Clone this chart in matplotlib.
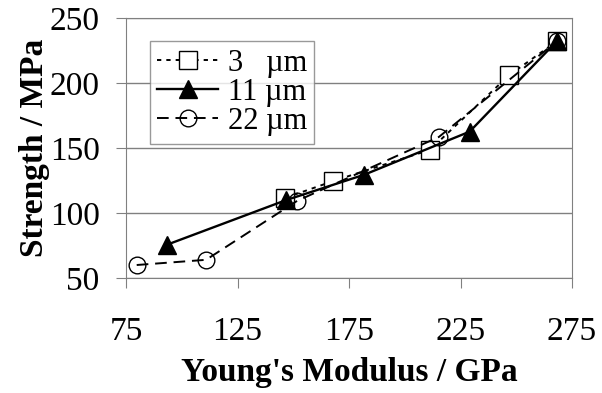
import matplotlib
matplotlib.use("Agg")
import matplotlib.pyplot as plt

# data
mod_3 = [146.4, 167.8, 211.3, 246.8, 268.1]
str_3 = [111.6, 124.5, 148.6, 206.0, 232.0]

mod_11 = [93.2, 146.9, 181.9, 229.1, 268.1]
str_11 = [75.5, 110.0, 129.5, 162.6, 232.0]

mod_22 = [79.8, 110.9, 151.7, 215.3, 268.1]
str_22 = [60.0, 64.0, 109.3, 158.5, 232.0]

x_ticks = [75, 125, 175, 225, 275]
y_ticks = [50, 100, 150, 200, 250]

plt.rcParams['font.family'] = ['Liberation Serif', 'DejaVu Serif']

fig = plt.figure(figsize=(6.02, 3.93), dpi=100)
ax = fig.add_axes([0.2093, 0.2926, 0.7409, 0.6616])

ax.plot(mod_3, str_3, color='black', lw=1.4, ls=(0, (2.2, 2.6)), marker='s',
        ms=12.5, mfc='white', mec='black', mew=1.0, label='3   \u00b5m', zorder=3)
ax.plot(mod_11, str_11, color='black', lw=1.7, ls='-', marker='^',
        ms=13, mfc='black', mec='black', label='11 \u00b5m', zorder=4)
ax.plot(mod_22, str_22, color='black', lw=1.4, ls=(0, (6, 3.5)), marker='o',
        ms=12, mfc='none', mec='black', mew=1.0, label='22 \u00b5m', zorder=3)

ax.set_xlim(75, 275)
ax.set_ylim(50, 250)
ax.set_xticks(x_ticks)
ax.set_yticks(y_ticks)
ax.grid(axis='y', color='#808080', lw=1.0)
ax.set_axisbelow(True)

for s in ['top', 'right', 'left', 'bottom']:
    ax.spines[s].set_color('#808080')
ax.tick_params(axis='both', direction='out', length=7, color='#808080',
               labelsize=24)
ax.tick_params(axis='x', pad=21)
ax.tick_params(axis='y', pad=12)

ax.set_xlabel("Young's Modulus / GPa", fontsize=24, fontweight='bold', labelpad=7)
ax.set_ylabel("Strength / MPa", fontsize=24, fontweight='bold', labelpad=0)

leg = ax.legend(loc='upper left', bbox_to_anchor=(0.053, 0.91), fontsize=22,
                frameon=True, fancybox=False, edgecolor='#808080',
                handlelength=2.0, handletextpad=0.3, labelspacing=0.0,
                borderpad=0.25, borderaxespad=0)
leg.get_frame().set_linewidth(1.0)

fig.savefig('out.png', dpi=100)
